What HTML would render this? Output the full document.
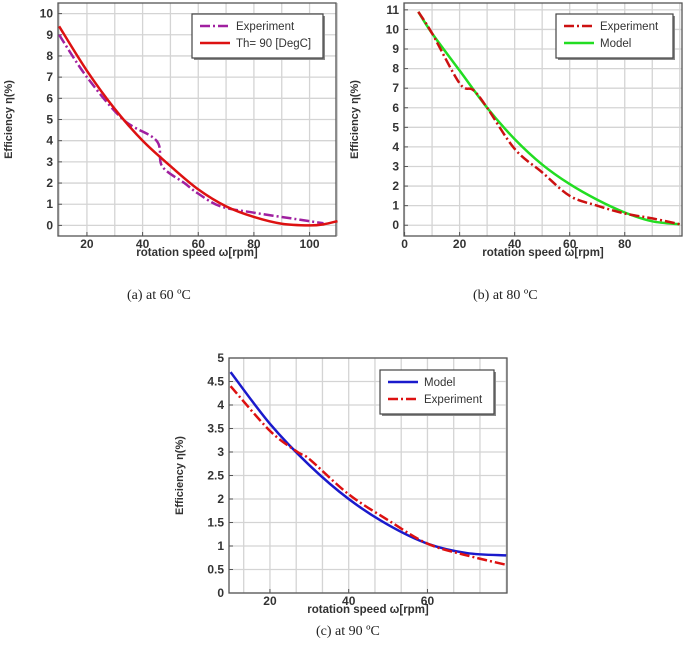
<!DOCTYPE html>
<html><head><meta charset="utf-8">
<style>
body{margin:0;background:#fff;width:685px;height:658px;overflow:hidden;position:relative;font-family:"Liberation Sans",sans-serif}
.cap{position:absolute;font-family:"Liberation Serif",serif;font-size:14px;color:#222;white-space:nowrap}
svg{position:absolute;left:0;top:0}
</style></head><body>
<svg id="s" width="685" height="658"></svg>
<div class="cap" style="left:127px;top:288px">(a) at 60 ºC</div>
<div class="cap" style="left:473px;top:288px">(b) at 80 ºC</div>
<div class="cap" style="left:316px;top:624px">(c) at 90 ºC</div>
<script>
// Chart a data
const aX=[10,20,30,40,50,60,70,80,90,100,105,110];
const aModel=[9.4,7.3,5.5,4.0,2.8,1.7,0.9,0.4,0.08,0.0,0.05,0.2];
const aExpX=[10,20,33,45,47,55,60,68,80,95,105];
const aExp=[9.0,7.0,5.0,4.0,2.8,2.0,1.5,0.9,0.6,0.3,0.1];
const aXTicks=[20,40,60,80,100];
const aYTicks=[0,1,2,3,4,5,6,7,8,9,10];
// Chart b data
const bX=[5,10,20,30,40,50,60,70,80,90,100];
const bModel=[10.9,9.8,7.9,6.0,4.4,3.1,2.1,1.3,0.65,0.2,0.05];
const bExpX=[5,10,20,25,30,40,50,60,70,80,90,100];
const bExp=[10.9,9.8,7.25,6.9,6.0,3.9,2.7,1.5,1.0,0.6,0.35,0.05];
const bXTicks=[0,20,40,60,80];
const bYTicks=[0,1,2,3,4,5,6,7,8,9,10,11];
// Chart c data
const cModelX=[10,20,30,40,50,60,70,80];
const cModel=[4.7,3.6,2.72,2.0,1.45,1.05,0.85,0.8];
const cExpX=[10,20,27,30,40,50,60,70,80];
const cExp=[4.4,3.45,3.0,2.85,2.1,1.55,1.05,0.8,0.6];
const cXTicks=[20,40,60];
const cYTicks=[0,0.5,1,1.5,2,2.5,3,3.5,4,4.5,5];

const NS="http://www.w3.org/2000/svg",S=document.getElementById('s');
function el(t,a,p){const e=document.createElementNS(NS,t);for(const k in a)e.setAttribute(k,a[k]);(p||S).appendChild(e);return e;}
function path(xs,ys,sx,sy){
  const P=xs.map((x,i)=>[sx(x),sy(ys[i])]);let d='M'+P[0][0]+','+P[0][1];
  for(let i=0;i<P.length-1;i++){const p0=P[i-1]||P[i],p1=P[i],p2=P[i+1],p3=P[i+2]||p2;
    d+=' C'+(p1[0]+(p2[0]-p0[0])/6)+','+(p1[1]+(p2[1]-p0[1])/6)+' '+(p2[0]-(p3[0]-p1[0])/6)+','+(p2[1]-(p3[1]-p1[1])/6)+' '+p2[0]+','+p2[1];}
  return d;}
function chart(o){
  const g=el('g',{});
  
  
  const sx=v=>o.L+(v-o.x0)/(o.x1-o.x0)*(o.R-o.L), sy=v=>o.B-(v-o.y0)/(o.y1-o.y0)*(o.B-o.T);
  o.xg.forEach(v=>{const l=el('line',{x1:sx(v),x2:sx(v),y1:o.T,y2:o.B,stroke:'#d4d4d4','stroke-width':1.3},g);});
  o.yt.forEach(v=>{const l=el('line',{x1:o.L,x2:o.R,y1:sy(v),y2:sy(v),stroke:'#d4d4d4','stroke-width':1.3},g);});
  const f=el('rect',{x:o.L,y:o.T,width:o.R-o.L,height:o.B-o.T,fill:'none',stroke:'#555','stroke-width':1.3},g);
  
  o.xt.forEach(v=>{el('line',{x1:sx(v),x2:sx(v),y1:o.B,y2:o.B-4,stroke:'#555'},g);
    const t=el('text',{x:sx(v),y:o.B+12,'text-anchor':'middle','font-size':12,fill:'#333','font-weight':'bold'},g);t.textContent=v;
    });
  o.yt.forEach(v=>{el('line',{x1:o.L,x2:o.L+4,y1:sy(v),y2:sy(v),stroke:'#555'},g);
    const t=el('text',{x:o.L-5,y:sy(v)+4,'text-anchor':'end','font-size':12,fill:'#333','font-weight':'bold'},g);t.textContent=v;
    });
  const xt=el('text',{x:(o.L+o.R)/2,y:o.B+20,'text-anchor':'middle','font-size':11.5,fill:'#333','font-weight':'bold'},g);xt.textContent='rotation speed ω[rpm]';
  
  const cy=(o.T+o.B)/2,yx=o.L-46;
  const yt=el('text',{x:yx,y:cy,'text-anchor':'middle','font-size':11,fill:'#333','font-weight':'bold',transform:'rotate(-90 '+yx+' '+cy+')'},g);yt.textContent='Efficiency η(%)';
  
  o.series.forEach(s=>{const p=el('path',{d:path(s.x,s.y,sx,sy),fill:'none',stroke:s.c,'stroke-width':2.5,'stroke-dasharray':s.dash||'none'},g);
    });
  const lg=el('g',{},g);
  el('rect',{x:o.lg[0]+2,y:o.lg[1]+2,width:o.lg[2],height:o.lg[3],fill:'#888'},lg);
  el('rect',{x:o.lg[0],y:o.lg[1],width:o.lg[2],height:o.lg[3],fill:'#fff',stroke:'#444','stroke-width':1.2},lg);
  o.series.slice().sort((a,b)=>a.li-b.li).forEach((s,i)=>{const y=o.lg[1]+12+i*17;
    el('line',{x1:o.lg[0]+8,x2:o.lg[0]+38,y1:y,y2:y,stroke:s.c,'stroke-width':2.5,'stroke-dasharray':s.dash||'none'},lg);
    const t=el('text',{x:o.lg[0]+44,y:y+4,'font-size':11.5,fill:'#333'},lg);t.textContent=s.label;
    });
}
const g10=(a,b,st)=>{const r=[];for(let v=a;v<=b+1e-9;v+=st)r.push(v);return r;};
chart({name:'chart-a',L:58,R:336,T:3,B:236,x0:9.6,x1:109.5,y0:-0.5,y1:10.5,xt:aXTicks,yt:aYTicks,xg:g10(10,110,10),lg:[192,14,131,44],
 series:[{name:'experiment-line',x:aExpX,y:aExp,c:'#a020a0',dash:'10,3,2,3',label:'Experiment',li:0},
         {name:'model-line',x:aX,y:aModel,c:'#dd1111',label:'Th= 90 [DegC]',li:1}]});
chart({name:'chart-b',L:404,R:682,T:3,B:236,x0:-0.2,x1:100.8,y0:-0.55,y1:11.35,xt:bXTicks,yt:bYTicks,xg:g10(0,100,10),lg:[556,14,117,44],
 series:[{name:'model-line',x:bX,y:bModel,c:'#22dd22',label:'Model',li:1},
         {name:'experiment-line',x:bExpX,y:bExp,c:'#cc1111',dash:'10,3,2,3',label:'Experiment',li:0}]});
chart({name:'chart-c',L:229,R:507,T:358,B:593,x0:9.6,x1:80.2,y0:0,y1:5,xt:cXTicks,yt:cYTicks,xg:g10(40/3,80,20/3),lg:[380,370,114,44],
 series:[{name:'model-line',x:cModelX,y:cModel,c:'#1a1acc',label:'Model',li:0},
         {name:'experiment-line',x:cExpX,y:cExp,c:'#dd1111',dash:'10,3,2,3',label:'Experiment',li:1}]});
</script>
</body></html>
